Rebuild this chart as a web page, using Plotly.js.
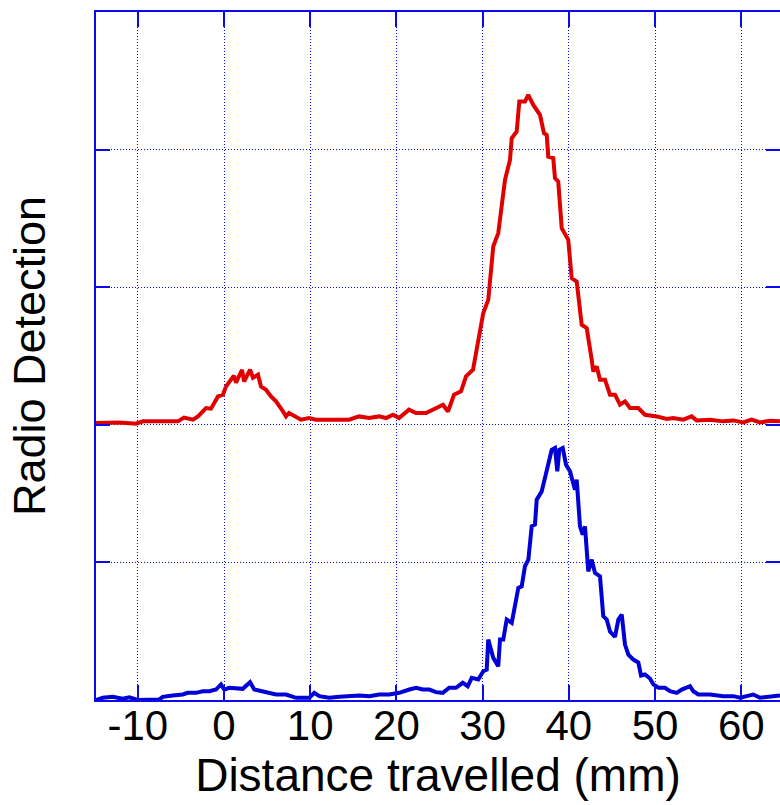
<!DOCTYPE html>
<html>
<head>
<meta charset="utf-8">
<script src="https://cdn.plot.ly/plotly-3.0.1.min.js"></script>
<style>html,body{margin:0;padding:0;background:#fff;overflow:hidden}</style>
</head>
<body>
<div id="chart" style="width:780px;height:805px"></div>
<script>
// Red trace (upper, offset baseline at 2)
const redX = [-14.85,-12.18,-10.21,-9.39,-8.23,-6.73,-5.34,-4.64,-3.60,-3.02,-2.09,-1.51,-0.70,-0.12,0.23,0.81,1.16,1.39,2.09,2.32,3.02,3.36,3.94,4.29,4.87,5.45,6.03,6.84,7.19,7.54,8.35,8.93,9.86,10.67,12.18,14.50,15.66,16.82,17.98,18.79,19.60,20.30,21.46,22.27,23.43,24.59,25.40,25.98,26.68,27.49,28.07,28.88,29.49,30.07,30.65,31.23,31.81,32.59,33.17,33.37,33.95,34.25,34.91,35.29,35.87,36.65,37.11,37.43,37.61,38.19,38.39,38.77,39.17,39.93,40.33,40.91,41.49,42.07,42.65,42.83,43.23,43.61,44.19,44.77,45.35,45.93,46.51,47.09,48.05,48.83,50.19,51.35,52.11,53.27,54.24,54.82,56.37,57.91,59.07,60.23,61.20,62.17,63.33,64.49];
const redY = [2.013,2.017,2.008,2.025,2.025,2.025,2.025,2.052,2.037,2.061,2.122,2.117,2.206,2.219,2.279,2.328,2.357,2.306,2.400,2.315,2.400,2.342,2.364,2.279,2.255,2.206,2.170,2.097,2.061,2.086,2.061,2.037,2.049,2.037,2.037,2.037,2.061,2.049,2.061,2.049,2.073,2.049,2.110,2.086,2.086,2.122,2.146,2.097,2.219,2.243,2.352,2.400,2.594,2.812,2.908,3.296,3.393,3.780,3.925,4.083,4.131,4.349,4.349,4.397,4.325,4.252,4.119,4.107,3.949,3.938,3.792,3.768,3.429,3.344,3.066,3.041,2.727,2.703,2.473,2.388,2.424,2.328,2.328,2.219,2.219,2.146,2.170,2.122,2.122,2.073,2.061,2.042,2.049,2.037,2.061,2.032,2.037,2.025,2.032,2.017,2.037,2.017,2.030,2.025];
// Blue trace (lower, baseline at 0)
const blueX = [-14.85,-14.07,-12.91,-11.75,-10.98,-10.01,-7.50,-7.11,-5.95,-4.79,-4.21,-3.25,-2.47,-1.70,-0.93,-0.35,0.03,0.61,2.17,2.75,3.02,3.51,4.29,5.25,6.03,7.19,8.35,9.89,10.47,11.05,12.21,13.37,14.53,15.69,16.85,18.01,19.17,20.33,21.49,22.27,23.05,23.81,24.59,25.37,26.13,26.91,27.69,28.27,28.73,29.49,30.07,30.47,30.65,31.23,31.81,32.01,32.39,32.79,33.37,33.75,34.14,34.53,34.91,35.30,35.69,36.07,36.27,36.85,37.43,38.01,38.39,38.66,38.89,39.29,39.67,40.13,40.44,40.71,40.91,41.29,41.60,41.87,42.25,42.65,43.03,43.61,43.99,44.39,44.77,45.35,45.74,46.13,46.51,46.90,47.48,48.06,48.37,48.83,49.41,49.80,50.38,51.15,51.73,52.51,53.09,54.05,54.43,55.01,56.37,57.91,59.07,59.85,60.62,61.39,62.17,63.33,64.49];
const blueY = [0.000,0.016,0.023,0.009,0.020,0.000,0.004,0.023,0.033,0.040,0.052,0.052,0.064,0.064,0.076,0.113,0.076,0.089,0.081,0.113,0.129,0.076,0.064,0.052,0.040,0.040,0.016,0.016,0.052,0.028,0.016,0.023,0.028,0.033,0.028,0.040,0.040,0.052,0.076,0.089,0.076,0.076,0.057,0.052,0.089,0.089,0.125,0.100,0.161,0.149,0.209,0.221,0.439,0.306,0.245,0.439,0.439,0.585,0.561,0.706,0.815,0.826,0.972,1.020,1.262,1.275,1.456,1.516,1.674,1.819,1.832,1.662,1.819,1.832,1.710,1.662,1.589,1.529,1.601,1.262,1.202,1.262,0.935,1.020,0.924,0.899,0.609,0.585,0.497,0.458,0.585,0.621,0.403,0.330,0.294,0.272,0.178,0.185,0.156,0.113,0.089,0.089,0.064,0.052,0.076,0.100,0.064,0.040,0.040,0.028,0.028,0.016,0.028,0.040,0.016,0.028,0.033];
const xTicks = [-10,0,10,20,30,40,50,60];
const yTicks = [0,1,2,3,4,5];

const axisBlue = 'rgb(10,10,235)';
const traces = [
  {x: redX, y: redY, type: 'scatter', mode: 'lines', line: {color: 'rgb(225,0,0)', width: 4}, showlegend: false},
  {x: blueX, y: blueY, type: 'scatter', mode: 'lines', line: {color: 'rgb(0,0,215)', width: 4}, showlegend: false}
];
const layout = {
  width: 780, height: 805,
  margin: {l: 96, r: 0, t: 12, b: 105},
  paper_bgcolor: '#fff', plot_bgcolor: '#fff',
  font: {family: 'Liberation Sans, Arial, sans-serif', color: '#000'},
  xaxis: {
    range: [-14.85, 64.49], tickvals: xTicks, ticktext: xTicks.map(String),
    showline: true, linecolor: axisBlue, linewidth: 2, mirror: 'ticks',
    ticks: 'inside', ticklen: 15, tickwidth: 2, tickcolor: axisBlue,
    showgrid: true, gridcolor: axisBlue, gridwidth: 1, griddash: '1px,2px',
    zeroline: false, tickfont: {size: 42, color: '#000'}, ticklabelstandoff: -12,
    title: {text: 'Distance travelled (mm)', font: {size: 46, color: '#000'}, standoff: 9},
    automargin: false
  },
  yaxis: {
    range: [0, 5], tickvals: yTicks, showticklabels: false,
    showline: true, linecolor: axisBlue, linewidth: 2, mirror: 'ticks',
    ticks: 'inside', ticklen: 14, tickwidth: 2, tickcolor: axisBlue,
    showgrid: true, gridcolor: axisBlue, gridwidth: 1, griddash: '1px,2px',
    zeroline: false,
    title: {text: 'Radio Detection', font: {size: 45, color: '#000'}, standoff: 34},
    automargin: false
  }
};
Plotly.newPlot('chart', traces, layout, {displayModeBar: false, staticPlot: true});
</script>
</body>
</html>
